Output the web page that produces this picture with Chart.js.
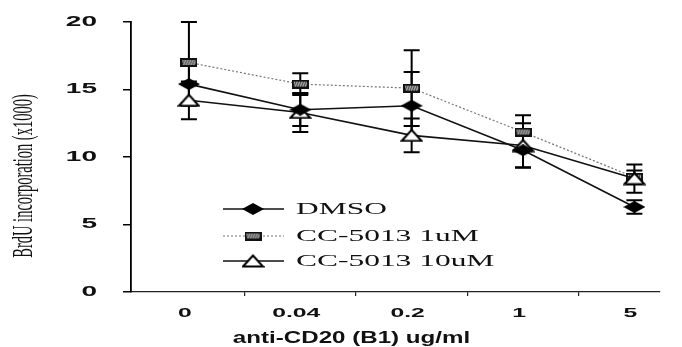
<!DOCTYPE html>
<html>
<head>
<meta charset="utf-8">
<script src="https://cdn.jsdelivr.net/npm/chart.js@4/dist/chart.umd.min.js"></script>
<style>
    html, body { margin: 0; padding: 0; background: #fff; }
    #wrap { width: 682px; height: 347px; }
</style>
</head>
<body>
<div id="wrap"><canvas id="brduChart" width="682" height="347"></canvas></div>
<script>
// values
const doses = ["0", "0.04", "0.2", "1", "5"];
const yTicks = [0, 5, 10, 15, 20];

const dmso = [15.4, 13.5, 13.8, 10.5, 6.3];
const dmsoErr = [1.6, 1.2, 2.5, 1.25, 0.5];

const cc1uM = [17.0, 15.4, 15.1, 11.85, 8.5];
const cc1uMErr = [3.0, 0.8, 2.8, 1.25, 0.5];

const cc10uM = [14.2, 13.3, 11.6, 10.85, 8.4];
const cc10uMErr = [1.4, 1.45, 1.25, 1.65, 1.05];

const seriesNames = ["DMSO", "CC-5013 1uM", "CC-5013 10uM"];

// marker images (the scan is stretched sideways, so markers are flat)
function makeDiamond() {
    const c = document.createElement("canvas");
    c.width = 22; c.height = 12;
    const g = c.getContext("2d");
    g.beginPath();
    g.moveTo(0, 6); g.lineTo(11, 0); g.lineTo(22, 6); g.lineTo(11, 12);
    g.closePath();
    g.fillStyle = "#000";
    g.fill();
    return c;
}

function makeBox() {
    const c = document.createElement("canvas");
    c.width = 17; c.height = 9;
    const g = c.getContext("2d");
    g.fillStyle = "#111";
    g.fillRect(0, 0, 17, 9);
    g.fillStyle = "#bbb";
    g.fillRect(2, 2, 13, 5);
    g.strokeStyle = "#222";
    g.lineWidth = 1;
    for (let i = 0; i < 6; i++) {
        g.beginPath();
        g.moveTo(2 + i * 2.5, 7);
        g.lineTo(4 + i * 2.5, 2);
        g.stroke();
    }
    return c;
}

function makeTriangle() {
    const c = document.createElement("canvas");
    c.width = 23; c.height = 14;
    const g = c.getContext("2d");
    g.beginPath();
    g.moveTo(1.5, 12.5); g.lineTo(11.5, 1.5); g.lineTo(21.5, 12.5);
    g.closePath();
    g.fillStyle = "#fff";
    g.fill();
    g.strokeStyle = "#000";
    g.lineWidth = 2;
    g.stroke();
    return c;
}

const markers = [makeDiamond(), makeBox(), makeTriangle()];
const lineStyles = [
    { color: "#111", width: 1.6, dash: [] },
    { color: "#777", width: 1.2, dash: [2, 2] },
    { color: "#111", width: 1.6, dash: [] }
];

function toPoints(values) {
    return values.map((v, i) => ({ x: i, y: v }));
}

const allSeries = [dmso, cc1uM, cc10uM];
const allErrors = [dmsoErr, cc1uMErr, cc10uMErr];

// error bars drawn under the markers
const errorBarPlugin = {
    id: "errorBars",
    beforeDatasetsDraw(chart) {
        const ctx = chart.ctx;
        const xs = chart.scales.x;
        const ys = chart.scales.y;
        ctx.save();
        ctx.strokeStyle = "#000";
        ctx.lineWidth = 2;
        allSeries.forEach((values, s) => {
            values.forEach((v, i) => {
                const px = xs.getPixelForValue(i);
                const top = ys.getPixelForValue(v + allErrors[s][i]);
                const bottom = ys.getPixelForValue(v - allErrors[s][i]);
                ctx.beginPath();
                ctx.moveTo(px, top); ctx.lineTo(px, bottom);
                ctx.moveTo(px - 8, top); ctx.lineTo(px + 8, top);
                ctx.moveTo(px - 8, bottom); ctx.lineTo(px + 8, bottom);
                ctx.stroke();
            });
        });
        ctx.restore();
    }
};

// text in the scan is stretched horizontally, so it is drawn by hand
function stretchedText(ctx, text, x, y, sx, font, align, baseline) {
    ctx.save();
    ctx.font = font;
    ctx.textAlign = align;
    ctx.textBaseline = baseline;
    ctx.translate(x, y);
    ctx.scale(sx, 1);
    ctx.fillText(text, 0, 0);
    ctx.restore();
}

const textPlugin = {
    id: "scanText",
    afterDraw(chart) {
        const ctx = chart.ctx;
        const xs = chart.scales.x;
        const ys = chart.scales.y;
        const area = chart.chartArea;
        ctx.fillStyle = "#111";

        for (const t of yTicks) {
            stretchedText(ctx, String(t), area.left - 34, ys.getPixelForValue(t), 2.0,
                "bold 14px 'Liberation Sans', Arial, sans-serif", "right", "middle");
        }
        doses.forEach((d, i) => {
            stretchedText(ctx, d, xs.getPixelForValue(i) - 4, area.bottom + 21, 1.9,
                "bold 13px 'Liberation Sans', Arial, sans-serif", "center", "middle");
        });
        stretchedText(ctx, "anti-CD20 (B1) ug/ml", (area.left + area.right) / 2 - 44, 343, 1.42,
            "bold 17px 'Liberation Sans', Arial, sans-serif", "center", "alphabetic");

        // y title, condensed along its length
        ctx.save();
        ctx.translate(24, (area.top + area.bottom) / 2 + 19);
        ctx.rotate(-Math.PI / 2);
        ctx.scale(0.5, 1);
        ctx.font = "29px 'Liberation Serif', 'Times New Roman', serif";
        ctx.textAlign = "center";
        ctx.textBaseline = "middle";
        ctx.fillText("BrdU incorporation (x1000)", 0, 0);
        ctx.restore();

        // legend inside the plot
        const rowY = [209, 236, 261];
        seriesNames.forEach((name, s) => {
            const y = rowY[s];
            ctx.save();
            ctx.strokeStyle = lineStyles[s].color;
            ctx.lineWidth = lineStyles[s].width;
            ctx.setLineDash(lineStyles[s].dash);
            ctx.beginPath();
            ctx.moveTo(223, y); ctx.lineTo(284, y);
            ctx.stroke();
            ctx.restore();
            const m = markers[s];
            ctx.drawImage(m, 253 - m.width / 2, y - m.height / 2);
            ctx.fillStyle = "#111";
            stretchedText(ctx, name, 296, y + 1, 1.85,
                "17px 'Liberation Serif', 'Times New Roman', serif", "left", "middle");
        });
    }
};

const datasets = allSeries.map((values, s) => ({
    label: seriesNames[s],
    data: toPoints(values),
    borderColor: lineStyles[s].color,
    borderWidth: lineStyles[s].width,
    borderDash: lineStyles[s].dash,
    pointStyle: markers[s],
    pointRadius: 8,
    fill: false,
    tension: 0
}));
// draw DMSO last so its diamonds sit on top
datasets[0].order = 0;
datasets[1].order = 2;
datasets[2].order = 1;

new Chart(document.querySelector("#brduChart"), {
    type: "line",
    data: { datasets: datasets },
    options: {
        responsive: false,
        animation: false,
        layout: { padding: { top: 22, right: 22, left: 0, bottom: 0 } },
        plugins: {
            legend: { display: false },
            tooltip: { enabled: false }
        },
        scales: {
            x: {
                type: "linear",
                min: -0.52,
                max: 4.23,
                afterFit: (scale) => { scale.height = 55; },
                afterBuildTicks: (scale) => {
                    const ticks = [];
                    for (let v = 0; v <= doses.length - 1; v += 0.5) ticks.push({ value: v });
                    scale.ticks = ticks;
                },
                ticks: { display: false },
                grid: {
                    drawOnChartArea: false,
                    tickLength: 4,
                    tickColor: (ctx) => Number.isInteger(ctx.tick.value) ? "rgba(0,0,0,0)" : "#222",
                    lineWidth: 1.2
                },
                border: { color: "#222", width: 1.3 }
            },
            y: {
                min: 0,
                max: 20,
                afterFit: (scale) => { scale.width = 131; },
                afterBuildTicks: (scale) => {
                    scale.ticks = yTicks.map((v) => ({ value: v }));
                },
                ticks: { display: false },
                grid: {
                    drawOnChartArea: false,
                    tickLength: 8,
                    tickColor: "#000",
                    lineWidth: 1.5
                },
                border: { color: "#000", width: 1.8 }
            }
        }
    },
    plugins: [errorBarPlugin, textPlugin]
});
</script>
</body>
</html>
